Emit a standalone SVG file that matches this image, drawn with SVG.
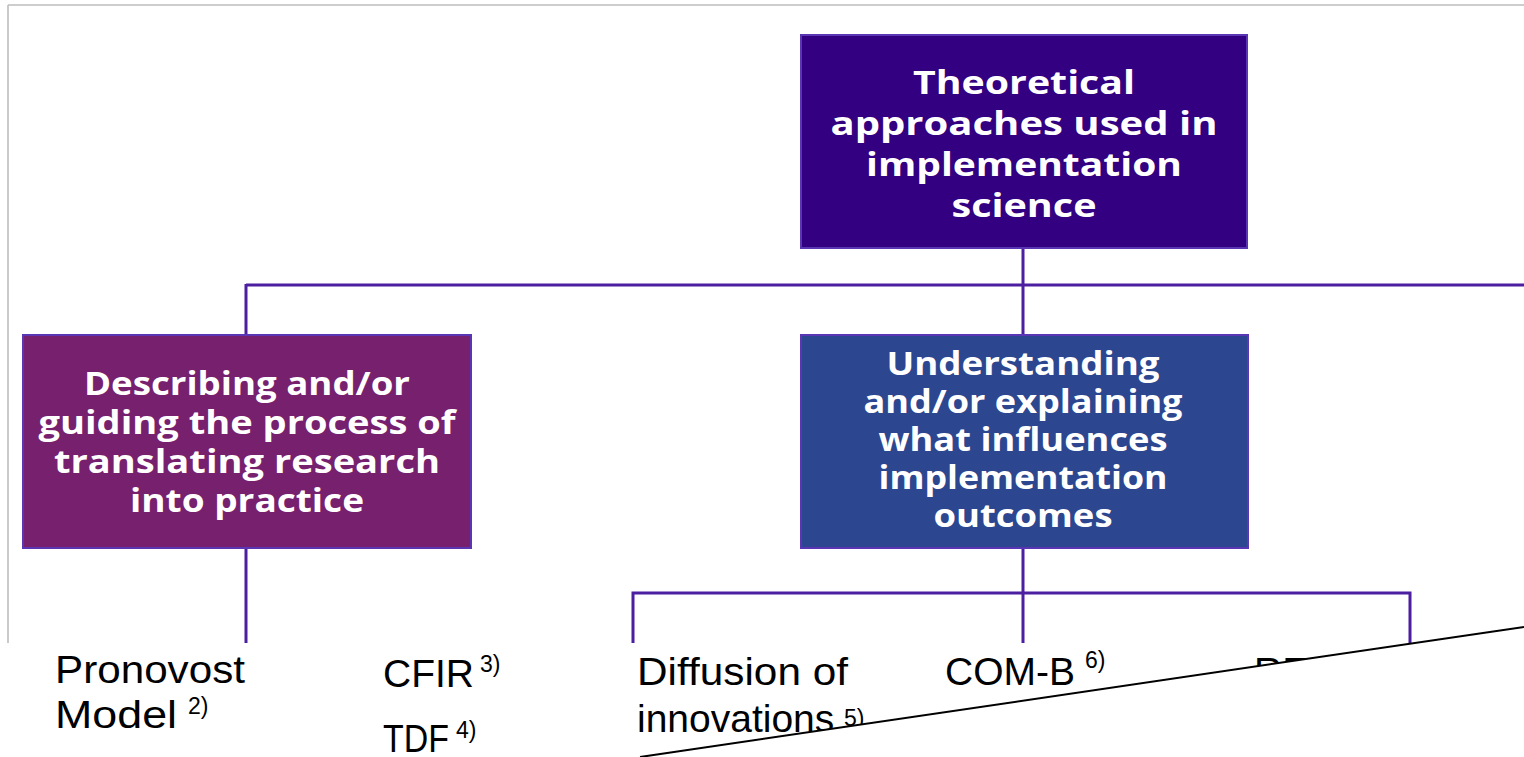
<svg xmlns="http://www.w3.org/2000/svg" width="1524" height="757" viewBox="0 0 1524 757">
  <style>
    .frame { stroke: #bdbdbd; stroke-width: 1.6; fill: none; }
    .conn { stroke: #4b1fa0; stroke-width: 3; fill: none; }
    .box { stroke: #5a36b4; stroke-width: 2; }
    .btxt { font-family: "Open Sans", "Noto Sans", sans-serif; font-weight: 700; font-size: 32px; fill: #ffffff; text-anchor: middle; }
    .lbl { font-family: "Liberation Sans", Arial, sans-serif; font-size: 39px; fill: #000000; }
    .sup { font-family: "Liberation Sans", Arial, sans-serif; font-size: 23px; fill: #000000; }
  </style>
  <rect x="0" y="0" width="1524" height="757" fill="#ffffff"/>

  <g id="frame">
    <line class="frame" x1="8" y1="5" x2="1524" y2="5"/>
    <line class="frame" x1="8" y1="5" x2="8" y2="643"/>
  </g>

  <g id="connectors">
    <line class="conn" x1="1023" y1="248" x2="1023" y2="336"/>
    <line class="conn" x1="246" y1="285" x2="1524" y2="285"/>
    <line class="conn" x1="246" y1="284" x2="246" y2="336"/>
    <line class="conn" x1="246" y1="548" x2="246" y2="643"/>
    <line class="conn" x1="1023" y1="548" x2="1023" y2="643"/>
    <polyline class="conn" points="633,643 633,593 1410,593 1410,643"/>
  </g>

  <g id="node-top">
    <rect class="box" x="801" y="35" width="446" height="213" fill="#320080"/>
    <text class="btxt" x="1024" y="94" textLength="222" lengthAdjust="spacingAndGlyphs">Theoretical</text>
    <text class="btxt" x="1024" y="135" textLength="387" lengthAdjust="spacingAndGlyphs">approaches used in</text>
    <text class="btxt" x="1024" y="176" textLength="316" lengthAdjust="spacingAndGlyphs">implementation</text>
    <text class="btxt" x="1024" y="217" textLength="145" lengthAdjust="spacingAndGlyphs">science</text>
  </g>

  <g id="node-describing">
    <rect class="box" x="23" y="335" width="448" height="213" fill="#76206e"/>
    <text class="btxt" x="247" y="395" textLength="326" lengthAdjust="spacingAndGlyphs">Describing and/or</text>
    <text class="btxt" x="247" y="434" textLength="417" lengthAdjust="spacingAndGlyphs">guiding the process of</text>
    <text class="btxt" x="247" y="473" textLength="386" lengthAdjust="spacingAndGlyphs">translating research</text>
    <text class="btxt" x="247" y="512" textLength="234" lengthAdjust="spacingAndGlyphs">into practice</text>
  </g>

  <g id="node-understanding">
    <rect class="box" x="801" y="335" width="447" height="213" fill="#2c4690"/>
    <text class="btxt" x="1023" y="375" textLength="273" lengthAdjust="spacingAndGlyphs">Understanding</text>
    <text class="btxt" x="1023" y="413" textLength="319" lengthAdjust="spacingAndGlyphs">and/or explaining</text>
    <text class="btxt" x="1023" y="451" textLength="289" lengthAdjust="spacingAndGlyphs">what influences</text>
    <text class="btxt" x="1023" y="489" textLength="289" lengthAdjust="spacingAndGlyphs">implementation</text>
    <text class="btxt" x="1023" y="527" textLength="179" lengthAdjust="spacingAndGlyphs">outcomes</text>
  </g>

  <g id="labels">
    <text class="lbl" x="55" y="683" textLength="190" lengthAdjust="spacingAndGlyphs">Pronovost</text>
    <text class="lbl" x="55" y="728" textLength="122" lengthAdjust="spacingAndGlyphs">Model</text>
    <text class="sup" x="188" y="714">2)</text>

    <text class="lbl" x="383" y="687">CFIR</text>
    <text class="sup" x="480" y="672">3)</text>
    <text class="lbl" x="383" y="752" textLength="66" lengthAdjust="spacingAndGlyphs">TDF</text>
    <text class="sup" x="456" y="738">4)</text>

    <text class="lbl" x="637" y="685" textLength="211" lengthAdjust="spacingAndGlyphs">Diffusion of</text>
    <text class="lbl" x="637" y="732">innovations</text>
    <text class="sup" x="844" y="726">5)</text>

    <text class="lbl" x="945" y="685">COM-B</text>
    <text class="sup" x="1085" y="668">6)</text>

    <text class="lbl" x="1254" y="685">RE</text>
  </g>

  <g id="cover">
    <polygon points="640,757 1524,627 1524,757" fill="#ffffff"/>
    <line x1="640" y1="757" x2="1524" y2="627" stroke="#000000" stroke-width="2"/>
  </g>
</svg>
